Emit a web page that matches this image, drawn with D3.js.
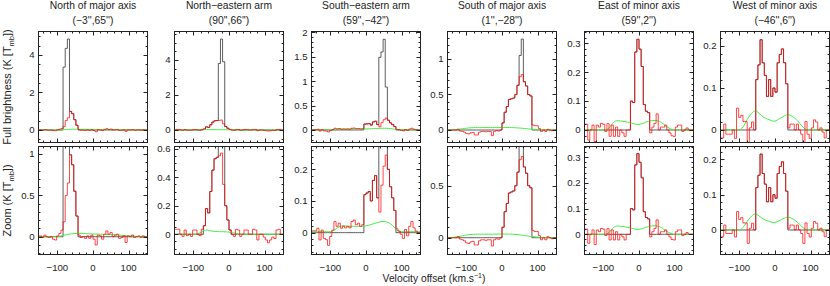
<!DOCTYPE html>
<html><head><meta charset="utf-8">
<script src="https://cdn.jsdelivr.net/npm/d3@7"></script>
<style>
body{margin:0;background:#fff}
svg{display:block}
text{font-family:"Liberation Sans",Arial,sans-serif;fill:#222}
</style>
</head><body>
<svg id="chart" width="830" height="286"></svg>
<script>
// ---------------- DATA ----------------
const velocity = [-147,-141,-135,-129,-123,-117,-111,-105,-99,-93,-87,-81,-75,-69,-63,-57,-51,-45,-39,-33,
  -27,-21,-15,-9,-3,3,9,15,21,27,33,39,45,51,57,63,69,75,81,87,93,99,105,111,117,123,129,135,141,147];
const velocityDomain = [-153, 153];
const velocityTicks = [-100, 0, 100];
const velocityMinorStep = 20;

const titles = ["North of major axis","North\u2212eastern arm","South\u2212eastern arm","South of major axis","East of minor axis","West of minor axis"];
const positions = ["(\u22123'',65'')","(90'',66'')","(59'',\u221242'')","(1'',\u221228'')","(59'',2'')","(\u221246'',6'')"];

const fullDomains = [[-0.667,5.25],[-0.714,5.63],[-0.257,2.02],[-0.176,1.387],[-0.0433,0.341],[-0.0298,0.2345]];
const fullTicks = [[0,2,4],[0,2,4],[0,0.5,1,1.5,2],[0,0.5,1],[0,0.1,0.2,0.3],[0,0.1,0.2]];
const fullMinorStep = [0.5,0.5,0.1,0.1,0.02,0.02];
const zoomDomains = [[-0.215,1.091],[-0.142,0.616],[-0.069,0.272],[-0.1615,0.877],[-0.0786,0.3416],[-0.0694,0.2365]];
const zoomTicks = [[0,0.5,1],[0,0.2,0.4,0.6],[0,0.1,0.2],[0,0.5],[0,0.1,0.2,0.3],[0,0.1,0.2]];
const zoomMinorStep = [0.1,0.05,0.02,0.1,0.02,0.02];

// spectrum 1: North of major axis
const red1 = [0.01,-0.01,0.02,0.0,-0.01,0.0,-0.03,-0.04,0.01,0.04,
  0.08,0.18,0.5,0.65,0.99,0.87,0.55,0.25,0.02,-0.01,
  0.0,-0.02,0.01,-0.02,0.02,-0.03,-0.1,0.02,0.01,-0.03,
  0.03,0.07,0.03,0.05,0.0,0.02,0.03,-0.02,-0.01,0.01,
  -0.07,0.01,0.0,0.02,-0.01,0.0,0.01,-0.01,0.01,0.0];
const black1 = [0,0,0,0,0,0,0,0,0,0,
  0,3.35,4.35,4.85,0.99,0.87,0.55,0.25,0,0,
  0,0,0,0,0,0,0,0,0,0,
  0,0,0,0,0,0,0,0,0,0,
  0,0,0,0,0,0,0,0,0,0];
const green1 = [0,0,0,0,0,0,0,0,0.002,0.006,
  0.012,0.018,0.024,0.03,0.034,0.037,0.039,0.04,0.04,0.04,
  0.039,0.038,0.036,0.035,0.034,0.033,0.032,0.031,0.03,0.029,
  0.028,0.027,0.026,0.025,0.024,0.022,0.021,0.019,0.017,0.015,
  0.013,0.011,0.009,0.007,0.005,0.004,0.003,0.002,0.001,0.0];

// spectrum 2: North-eastern arm
const red2 = [0.035,0.035,0.0,-0.015,0.03,-0.01,0.0,-0.015,0.03,0.03,
  0.0,-0.01,0.035,0.06,0.18,0.15,0.3,0.45,0.53,0.54,
  0.55,0.57,0.35,0.2,0.1,0.03,0.0,-0.015,0.035,0.03,
  -0.015,0.0,0.03,0.03,0.0,0.0,0.035,0.03,-0.04,0.0,
  0.0,-0.02,-0.04,-0.06,-0.04,-0.02,-0.03,0.03,0.035,0.0];
const black2 = [0,0,0,0,0,0,0,0,0,0,
  0,0,0,0.06,0.18,0.15,0.3,0.45,0.53,0.54,
  3.8,5.2,3.9,0.2,0.1,0.03,0,0,0,0,
  0,0,0,0,0,0,0,0,0,0,
  0,0,0,0,0,0,0,0,0,0];
const green2 = [0,0,0,0,0,0,0,0,0,0,
  0.005,0.01,0.02,0.028,0.03,0.028,0.024,0.021,0.02,0.019,
  0.018,0.018,0.018,0.017,0.016,0.014,0.011,0.008,0.005,0.003,
  0.001,0,0,0,0,0,0,0,0,0,
  0,0,0,0,0,0,0,0,0,0];

// spectrum 3: South-eastern arm
const red3 = [0.006,0.006,0.014,-0.023,0.008,-0.018,-0.022,-0.04,-0.012,0.008,
  0.035,0.02,0.03,0.014,0.02,0.015,0.02,0.015,0.035,0.04,
  0.025,0.03,0.02,0.025,0.12,0.125,0.13,0.1,0.165,0.18,
  0.11,0.065,0.15,0.21,0.245,0.2,0.145,0.11,0.07,0.012,
  0.005,-0.005,-0.018,0.01,-0.01,0.02,0.035,0.015,0.005,0.0];
const black3 = [0,0,0,0,0,0,0,0,0,0,
  0,0,0,0,0,0,0,0,0,0,
  0,0,0,0,0.12,0.125,0.13,0.1,0.165,0.18,
  0.11,1.49,1.6,1.86,0.88,0.2,0.145,0.11,0.07,0,
  0,0,0,0,0,0,0,0,0,0];
const green3 = [0.003,0.003,0.003,0.003,0.003,0.003,0.003,0.003,0.003,0.005,
  0.01,0.015,0.019,0.021,0.022,0.021,0.02,0.02,0.02,0.02,
  0.02,0.02,0.02,0.02,0.021,0.022,0.024,0.026,0.028,0.03,
  0.032,0.034,0.035,0.035,0.034,0.032,0.028,0.022,0.015,0.008,
  0.004,0.003,0.003,0.003,0.003,0.003,0.003,0.003,0.003,0.003];

// spectrum 4: South of major axis
const red4 = [0.0,0.0,0.0,0.0,0.01,-0.013,-0.02,-0.03,-0.05,-0.055,
  -0.04,-0.035,-0.07,-0.07,-0.03,-0.02,-0.02,-0.025,-0.02,-0.02,
  -0.08,-0.02,-0.01,-0.015,0.0,0.1,0.25,0.33,0.43,0.44,
  0.45,0.5,0.63,0.75,0.78,0.68,0.62,0.5,0.48,0.07,
  0.06,0.06,0.02,-0.02,0.0,-0.02,0.01,0.0,-0.01,0.0];
const black4 = [0,0,0,0,0,0,0,0,0,0,
  0,0,0,0,0,0,0,0,0,0,
  0,0,0,0,0,0.1,0.25,0.33,0.43,0.44,
  0.45,0.5,0.63,1.05,1.28,0.68,0.62,0.5,0.48,0,
  0,0,0,0,0,0,0,0,0,0];
const green4 = [0.0,0.002,0.004,0.007,0.01,0.014,0.018,0.022,0.026,0.029,
  0.031,0.033,0.034,0.034,0.034,0.034,0.034,0.034,0.034,0.034,
  0.034,0.034,0.035,0.035,0.035,0.035,0.035,0.035,0.035,0.034,
  0.033,0.031,0.029,0.027,0.024,0.021,0.018,0.015,0.012,0.01,
  0.008,0.006,0.004,0.003,0.002,0.001,0.001,0.0,0.0,0.0];

// spectrum 5: East of minor axis
const red5 = [0.02,-0.035,0.0,0.017,-0.04,0.017,0.01,0.023,0.02,-0.005,
  0.022,-0.022,0.017,-0.022,0.01,-0.022,0.0,-0.01,-0.022,0.0,
  0.0,0.1,0.095,0.27,0.314,0.28,0.22,0.088,0.065,0.06,
  -0.01,0.01,0.023,0.056,0.0,0.01,0.01,0.017,0.0,-0.01,
  -0.02,-0.022,0.01,0.017,0.017,-0.005,0.0,0.007,0.0,0.0];
const black5 = [0,0,0,0,0,0,0,0,0,0,
  0,0,0,0,0,0,0,0,0,0,
  0,0.1,0.095,0.27,0.314,0.28,0.22,0.088,0.065,0.06,
  0,0,0,0,0,0,0,0,0,0,
  0,0,0,0,0,0,0,0,0,0];
const green5 = [0,0,0,0,0,0,0,0,0,0,
  0.004,0.012,0.022,0.029,0.032,0.032,0.031,0.03,0.029,0.027,
  0.026,0.024,0.022,0.02,0.019,0.02,0.022,0.025,0.028,0.03,
  0.032,0.033,0.033,0.032,0.03,0.026,0.02,0.014,0.009,0.005,
  0.002,0,0,0,0,0,0,0,0,0];

// spectrum 6: West of minor axis
const red6 = [-0.019,0.014,-0.01,-0.01,-0.01,0.0,-0.02,0.052,0.03,0.035,
  0.02,0.02,-0.038,0.005,0.019,0.0,0.12,0.155,0.215,0.16,
  0.13,0.08,0.12,0.08,0.1,0.09,0.16,0.18,0.193,0.16,
  0.11,0.005,0.014,0.014,0.0,0.014,0.0,-0.01,-0.038,0.02,
  -0.01,-0.02,0.005,0.024,0.019,0.0,0.005,-0.005,-0.019,0.0];
const black6 = [0,0,0,0,0,0,0,0,0,0,
  0,0,0,0,0,0,0.12,0.155,0.215,0.16,
  0.13,0.08,0.12,0.08,0.1,0.09,0.16,0.18,0.193,0.16,
  0.11,0,0,0,0,0,0,0,0,0,
  0,0,0,0,0,0,0,0,0,0];
const green6 = [0,0,0,0,0,0,0,0,0,0.004,
  0.011,0.02,0.029,0.036,0.042,0.045,0.044,0.04,0.035,0.031,
  0.028,0.026,0.024,0.022,0.021,0.022,0.025,0.028,0.031,0.034,
  0.036,0.036,0.034,0.031,0.027,0.022,0.016,0.01,0.005,0.001,
  0,0,0,0,0,0,0,0,0,0];

const spectra = [[red1,black1,green1],[red2,black2,green2],[red3,black3,green3],
                 [red4,black4,green4],[red5,black5,green5],[red6,black6,green6]];

// ---------------- LAYOUT ----------------
const svg = d3.select("#chart");
const lefts = [38.5,174.5,311.5,447.5,584.5,720.5];
const pw = 109;
const rowsY = [[31.5,142.5],[146.5,254.5]];
const FS = 9.6, TFS = 10.3, YFS = 11;
const fmt = v => String(+v.toFixed(3)).replace("-", "\u2212");

function rangeStep(lo, hi, step){
  const out=[]; const s=Math.ceil(lo/step - 1e-9);
  for(let k=s; k*step<=hi+1e-9; k++) out.push(+(k*step).toFixed(6));
  return out;
}

spectra.forEach((sp, c) => {
  const L = lefts[c], R = L + pw;
  svg.append("text").attr("x",(L+R)/2).attr("y",9).attr("text-anchor","middle")
     .style("font-size",TFS+"px").text(titles[c]);
  svg.append("text").attr("x",(L+R)/2).attr("y",23.5).attr("text-anchor","middle")
     .style("font-size",TFS+"px").text(positions[c]);

  [0,1].forEach(r => {
    const [T,B] = rowsY[r];
    const dom = r===0 ? fullDomains[c] : zoomDomains[c];
    const ticks = r===0 ? fullTicks[c] : zoomTicks[c];
    const minor = r===0 ? fullMinorStep[c] : zoomMinorStep[c];
    const x = d3.scaleLinear().domain(velocityDomain).range([L,R]);
    const y = d3.scaleLinear().domain(dom).range([B,T]);
    const id = `clip${c}_${r}`;
    svg.append("clipPath").attr("id",id).append("rect")
       .attr("x",L).attr("y",T).attr("width",pw).attr("height",B-T);
    const g = svg.append("g").attr("clip-path",`url(#${id})`);
    const pts = arr => [[velocityDomain[0],arr[0]], ...velocity.map((v,i)=>[v,arr[i]]), [velocityDomain[1],arr[arr.length-1]]];
    const step = d3.line().x(d=>x(d[0])).y(d=>y(d[1])).curve(d3.curveStep);
    const smooth = d3.line().x(d=>x(d[0])).y(d=>y(d[1])).curve(d3.curveMonotoneX);
    const [red, black, green] = sp;
    g.append("path").attr("d",step(pts(black))).attr("fill","none").attr("stroke","#333").attr("stroke-width",0.8);
    g.append("path").attr("d",smooth(pts(green))).attr("fill","none").attr("stroke","#44ee44").attr("stroke-width",1);
    g.append("path").attr("d",step(pts(red))).attr("fill","none").attr("stroke","#ff0000").attr("stroke-opacity",0.72).attr("stroke-width",1);

    svg.append("rect").attr("x",L).attr("y",T).attr("width",pw).attr("height",B-T)
       .attr("fill","none").attr("stroke","#222").attr("stroke-width",1);
    const tk = svg.append("g").attr("stroke","#222").attr("stroke-width",1);
    rangeStep(velocityDomain[0],velocityDomain[1],velocityMinorStep).forEach(v=>{
      const major = velocityTicks.includes(v);
      const len = major?4:2; const xx = Math.round(x(v))+0.5;
      tk.append("line").attr("x1",xx).attr("x2",xx).attr("y1",B).attr("y2",B-len);
      tk.append("line").attr("x1",xx).attr("x2",xx).attr("y1",T).attr("y2",T+len);
    });
    rangeStep(dom[0],dom[1],minor).forEach(v=>{
      const major = ticks.some(t=>Math.abs(t-v)<1e-6);
      const len = major?4:2; const yy = Math.round(y(v))+0.5;
      tk.append("line").attr("y1",yy).attr("y2",yy).attr("x1",L).attr("x2",L+len);
      tk.append("line").attr("y1",yy).attr("y2",yy).attr("x1",R).attr("x2",R-len);
    });
    ticks.forEach(v=>{
      svg.append("text").attr("x",L-4).attr("y",y(v)).attr("dy","0.35em")
         .attr("text-anchor","end").style("font-size",FS+"px").text(fmt(v));
    });
    if(r===1){
      velocityTicks.forEach(v=>{
        svg.append("text").attr("x",x(v)).attr("y",B+16).attr("text-anchor","middle")
           .style("font-size",FS+"px").text(fmt(v));
      });
    }
  });
});

function yTitle(cy, main){
  const t = svg.append("text").attr("transform",`translate(11,${cy}) rotate(-90)`)
     .attr("text-anchor","middle").style("font-size",YFS+"px");
  t.append("tspan").text(main+" (K [T");
  t.append("tspan").attr("dy","2.5").style("font-size","7.5px").text("mb");
  t.append("tspan").attr("dy","-2.5").text("])");
}
yTitle((rowsY[0][0]+rowsY[0][1])/2, "Full brightness");
yTitle((rowsY[1][0]+rowsY[1][1])/2, "Zoom");
const xt = svg.append("text").attr("x",434).attr("y",282).attr("text-anchor","middle").style("font-size",TFS+"px");
xt.append("tspan").text("Velocity offset (km.s");
xt.append("tspan").attr("dy","-4").style("font-size","7px").text("\u22121");
xt.append("tspan").attr("dy","4").text(")");
</script>
</body></html>
